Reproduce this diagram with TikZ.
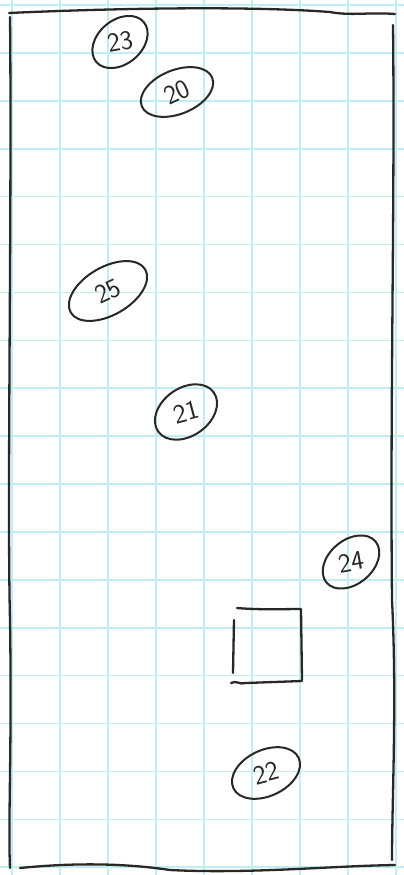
\documentclass[tikz,border=0pt]{standalone}
\usetikzlibrary{shapes.geometric}
\definecolor{gridc}{RGB}{192,238,242}
\definecolor{ink}{RGB}{40,40,40}
\begin{document}
\begin{tikzpicture}[x=1pt,y=-1pt,
  ink/.style={draw=ink,line width=2.3pt,line cap=round,line join=round},
  tag/.style={ellipse,draw=ink,line width=2pt,inner sep=0pt,font=\sffamily\fontsize{27}{27}\selectfont,text=ink}]
\useasboundingbox (0,0) rectangle (404,875);
\fill[white] (0,0) rectangle (404,875);
% grid
\foreach \i in {0,...,8} \draw[gridc,line width=1.6pt] (12+48*\i,0) -- (12+48*\i,875);
\foreach \j in {0,...,18} \draw[gridc,line width=1.6pt] (0,5+47.9*\j) -- (404,5+47.9*\j);
% frame
\draw[ink] (9,13) .. controls (120,8) and (250,6) .. (330,12) .. controls (350,16) and (370,12) .. (395,14);
\draw[ink] (10,17) .. controls (12,200) and (7,500) .. (10,620) .. controls (12,750) and (8,820) .. (10,868);
\draw[ink] (393,25) .. controls (395,200) and (390,400) .. (392,600) .. controls (397,700) and (392,800) .. (392,860);
\draw[ink] (20,868) .. controls (80,862) and (130,864) .. (170,870) .. controls (250,874) and (330,866) .. (395,865);
% labelled ovals
\node[tag,rotate=40,minimum width=62pt,minimum height=44pt] (n23) at (120,42) {\rotatebox{-30}{23}};
\node[tag,rotate=22,minimum width=76pt,minimum height=44pt] (n20) at (177,92) {\rotatebox{3}{20}};
\node[tag,rotate=30,minimum width=86pt,minimum height=48pt] (n25) at (108,291) {\rotatebox{-5}{25}};
\node[tag,rotate=35,minimum width=68pt,minimum height=48pt] (n21) at (186,412) {\rotatebox{-20}{21}};
\node[tag,rotate=40,minimum width=64pt,minimum height=44pt] (n24) at (351,562) {\rotatebox{-30}{24}};
\node[tag,rotate=25,minimum width=72pt,minimum height=46pt] (n22) at (266,773) {\rotatebox{-10}{22}};
% square
\draw[ink] (234,620) -- (233,673);
\draw[ink] (237,608) .. controls (260,610) and (285,609) .. (301,609) -- (302,680);
\draw[ink] (231,683) .. controls (236,680) and (240,685) .. (246,683) -- (302,681);
\end{tikzpicture}
\end{document}
